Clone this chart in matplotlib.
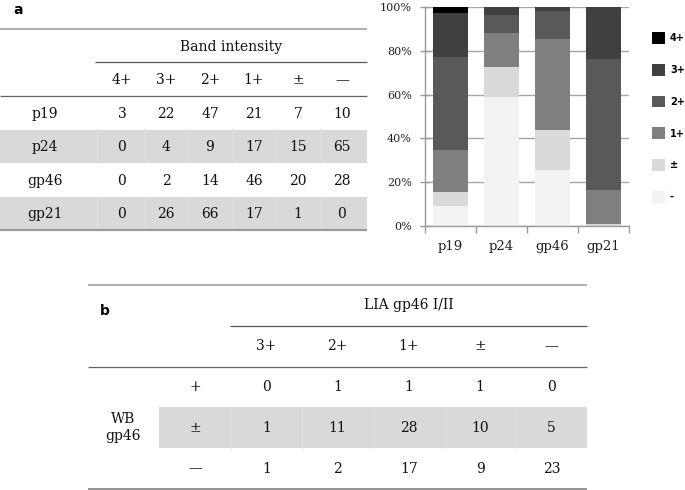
import numpy as np
import matplotlib
matplotlib.use("Agg")
import matplotlib.pyplot as plt
from matplotlib.patches import Rectangle

# ---------------- data ----------------
antigens = ["p19", "p24", "gp46", "gp21"]
intensity_labels = ["4+", "3+", "2+", "1+", "±", "—"]
legend_labels = ["4+", "3+", "2+", "1+", "±", "-"]
counts_p19 = [3, 22, 47, 21, 7, 10]
counts_p24 = [0, 4, 9, 17, 15, 65]
counts_gp46 = [0, 2, 14, 46, 20, 28]
counts_gp21 = [0, 26, 66, 17, 1, 0]

lia_title = "LIA gp46 I/II"
lia_labels = ["3+", "2+", "1+", "±", "—"]
wb_title = "WB\ngp46"
wb_labels = ["+", "±", "—"]
wb_plus = [0, 1, 1, 1, 0]
wb_pm = [1, 11, 28, 10, 5]
wb_minus = [1, 2, 17, 9, 23]

pct_ticks = [0, 20, 40, 60, 80, 100]
bar_colors = ["#000000", "#404040", "#595959", "#7f7f7f", "#d9d9d9", "#f2f2f2"]

# ---------------- figure ----------------
W, H = 685, 490
fig = plt.figure(figsize=(W / 100, H / 100), dpi=100)
ax0 = fig.add_axes([0, 0, 1, 1])
ax0.set_xlim(0, W)
ax0.set_ylim(H, 0)
ax0.axis("off")

SERIF = "DejaVu Serif"
FS = 10
TXT = "#111111"
BAND = "#d9d9d9"
SEP = "#dedede"


def hline(x0, x1, y, color="#8c8c8c", lw=1.1):
    ax0.plot([x0, x1], [y, y], color=color, lw=lw, solid_capstyle="butt", zorder=3)


def txt(x, y, s, **kw):
    ax0.text(x, y, s, ha="center", va="center", family=SERIF, fontsize=FS,
             color=TXT, **kw)


# ---------------- table a ----------------
ax0.text(13, 10, "a", fontsize=10, fontweight="bold", family="DejaVu Sans",
         ha="left", va="center")
ta_top, ta_rh = 29, 33.5
ta_right = 367
col_a = [122 + 44 * i for i in range(len(intensity_labels))]
rows_a = [counts_p19, counts_p24, counts_gp46, counts_gp21]


def ya(i):
    return ta_top + ta_rh * (i + 0.5) + 1


for r in range(len(rows_a)):
    if r % 2 == 1:
        y0 = ta_top + ta_rh * (r + 2)
        ax0.add_patch(Rectangle((0, y0), ta_right, ta_rh, color=BAND, lw=0, zorder=1))
        for xs in [97] + [col_a[i] + 22 for i in range(len(col_a) - 1)]:
            ax0.plot([xs, xs], [y0, y0 + ta_rh], color=SEP, lw=0.8, zorder=1.5)

hline(0, ta_right, ta_top, color="#9a9a9a", lw=1.1)
hline(95, ta_right, ta_top + ta_rh, color="#555555", lw=0.9)
hline(0, ta_right, ta_top + 2 * ta_rh, color="#666666", lw=0.9)
hline(0, ta_right, ta_top + 6 * ta_rh, color="#9a9a9a", lw=1.6)

txt((95 + ta_right) / 2, ya(0), "Band intensity")
for c, lab in zip(col_a, intensity_labels):
    txt(c, ya(1), lab)
for r, (name, vals) in enumerate(zip(antigens, rows_a)):
    txt(45, ya(r + 2), name)
    for c, v in zip(col_a, vals):
        txt(c, ya(r + 2), str(v))

# ---------------- table b ----------------
ax0.text(100, 311, "b", fontsize=10, fontweight="bold", family="DejaVu Sans",
         ha="left", va="center")
tb_top, tb_rh = 285, 40.8
tb_left, tb_right = 88, 587
col_b = [195 + 71.3 * i for i in range(len(lia_labels) + 1)]


def yb(i):
    return tb_top + tb_rh * (i + 0.5)


yband = tb_top + tb_rh * 3
ax0.add_patch(Rectangle((159, yband), tb_right - 159, tb_rh, color=BAND, lw=0, zorder=1))
for c in col_b[:-1]:
    xs = c + 35.65
    ax0.plot([xs, xs], [yband, yband + tb_rh], color=SEP, lw=0.8, zorder=1.5)

hline(tb_left, tb_right, tb_top, color="#9a9a9a", lw=1.1)
hline(230, tb_right, tb_top + tb_rh, color="#555555", lw=0.9)
hline(tb_left, tb_right, tb_top + 2 * tb_rh, color="#666666", lw=0.9)
hline(tb_left, tb_right, tb_top + 5 * tb_rh, color="#777777", lw=1.1)

txt((230 + tb_right) / 2, yb(0), lia_title)
for c, lab in zip(col_b[1:], lia_labels):
    txt(c, yb(1), lab)
txt(123, yb(3), wb_title, linespacing=1.3)
for r, (lab, vals) in enumerate(zip(wb_labels, [wb_plus, wb_pm, wb_minus])):
    txt(col_b[0], yb(r + 2), lab)
    for c, v in zip(col_b[1:], vals):
        txt(c, yb(r + 2), str(v))

# ---------------- stacked bar chart ----------------
axb = fig.add_axes([425 / W, 1 - 226 / H, 204 / W, 219 / H])
counts = np.array(rows_a, dtype=float)
pct = counts / counts.sum(axis=1, keepdims=True) * 100
x = np.arange(len(antigens))
bottom = np.zeros(len(antigens))
handles = {}
for j in reversed(range(len(intensity_labels))):
    h = axb.bar(x, pct[:, j], 0.67, bottom=bottom, color=bar_colors[j],
                lw=0, zorder=2)
    bottom += pct[:, j]
    handles[j] = h

axb.set_xlim(-0.5, len(antigens) - 0.5)
axb.set_ylim(0, 100)
axb.set_yticks(pct_ticks)
axb.set_yticklabels([f"{t}%" for t in pct_ticks], family=SERIF, fontsize=8,
                    color="#222222")
axb.set_xticks(x)
axb.set_xticklabels(antigens, family=SERIF, fontsize=9.5, color="#222222")
axb.set_xticks(np.arange(len(antigens) + 1) - 0.5, minor=True)
axb.tick_params(axis="x", which="major", length=0, pad=10)
axb.tick_params(axis="x", which="minor", length=5, direction="out",
                color="#9a9a9a", width=1)
axb.tick_params(axis="y", length=7, direction="inout", color="#9a9a9a",
                width=1, pad=6)
axb.yaxis.grid(True, color="#a6a6a6", lw=1.0)
axb.set_axisbelow(True)
for s in ["top", "right"]:
    axb.spines[s].set_visible(False)
for s in ["left", "bottom"]:
    axb.spines[s].set_color("#9a9a9a")
    axb.spines[s].set_linewidth(1.0)

leg_handles = [handles[j] for j in range(len(intensity_labels))]
fig.legend(leg_handles, legend_labels, loc="upper left",
           bbox_to_anchor=(652 / W, 1 - 32 / H), bbox_transform=fig.transFigure,
           frameon=False, borderpad=0, borderaxespad=0,
           prop={"family": "DejaVu Sans", "weight": "bold", "size": 7},
           handlelength=1.3, handleheight=1.5, handletextpad=0.55,
           labelspacing=2.05)

fig.savefig("out.png", dpi=100)
